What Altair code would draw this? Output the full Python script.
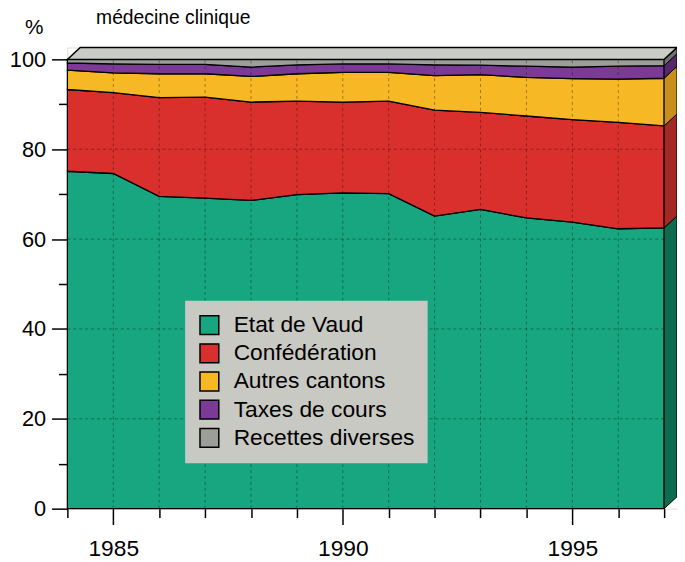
import altair as alt
import pandas as pd

# ---- data ----
years = list(range(1984, 1998))
series_names = ["Etat de Vaud", "Confédération", "Autres cantons", "Taxes de cours", "Recettes diverses"]
etat_de_vaud = [75.1, 74.6, 69.5, 69.1, 68.6, 69.9, 70.3, 70.1, 65.1, 66.6, 64.7, 63.8, 62.3, 62.5]
confederation = [18.2, 18.0, 22.0, 22.5, 21.9, 20.8, 20.2, 20.6, 23.6, 21.6, 22.7, 22.8, 23.7, 22.7]
autres_cantons = [4.3, 4.4, 5.3, 5.2, 5.7, 6.1, 6.6, 6.4, 7.7, 8.4, 8.6, 9.1, 9.6, 10.6]
taxes_de_cours = [1.6, 2.0, 2.1, 2.1, 2.1, 2.0, 1.9, 1.9, 2.4, 2.1, 2.5, 2.6, 2.9, 2.8]
recettes_diverses = [0.8, 1.0, 1.1, 1.1, 1.7, 1.2, 1.0, 1.0, 1.2, 1.3, 1.5, 1.7, 1.5, 1.4]
y_ticks = list(range(0, 101, 10))
grid_levels = [20, 40, 60, 80]
subtitle_text = ["médecine clinique"]

# ---- styles ----
front_colors = ["#17a67f", "#da302d", "#f7b826", "#7b3a95", "#9b9e99"]
side_colors = ["#0d6b4f", "#a52825", "#c98f1c", "#55276b", "#6f726e"]
top_color = "#c9ccc7"
FONT = "Liberation Sans"
DX = 0.28   # depth of the 3D effect in years
DY = 2.65   # depth of the 3D effect in percent

values = [etat_de_vaud, confederation, autres_cantons, taxes_de_cours, recettes_diverses]

rows = []
side_rows = []
for i, year in enumerate(years):
    base = 0.0
    for name, vals in zip(series_names, values):
        top = base + vals[i]
        rows.append({"year": year, "series": name, "lo": base, "hi": top})
        if i == len(years) - 1:
            side_rows.append({"x": year, "side": name, "lo": base, "hi": top})
            side_rows.append({"x": year + DX, "side": name, "lo": base + DY, "hi": top + DY})
        base = top
df = pd.DataFrame(rows)
side_df = pd.DataFrame(side_rows)

x0, x1 = years[0], years[-1]
top_df = pd.DataFrame({
    "x": [x0, x0 + DX, x1, x1 + DX],
    "lo": [100, 100, 100, 100 + DY],
    "hi": [100, 100 + DY, 100 + DY, 100 + DY],
})

vgrid = pd.DataFrame({"x": years[1:-1], "lo": 0, "hi": 100})
hgrid = pd.DataFrame({"y": grid_levels, "xa": x0, "xb": x1})

xscale = alt.Scale(domain=[x0, x1 + DX], nice=False, zero=False)
yscale = alt.Scale(domain=[0, 100 + DY], nice=False)

x_axis = alt.Axis(
    values=years, format="d", title=None, grid=False, domain=False,
    labelExpr="datum.value % 5 === 0 ? datum.label : ''",
    tickSize={"condition": {"test": "datum.value % 5 === 0", "value": 16}, "value": 9},
    tickColor="black", tickWidth=1.5, labelFont=FONT, labelFontSize=23,
    labelColor="black", labelPadding=13, labelFlush=False,
)
y_axis = alt.Axis(
    values=y_ticks, title="%", grid=False, domain=False,
    labelExpr="datum.value % 20 === 0 ? datum.label : ''",
    tickSize={"condition": {"test": "datum.value % 20 === 0", "value": 16}, "value": 9},
    tickColor="black", tickWidth=1.5, labelFont=FONT, labelFontSize=22,
    labelColor="black", labelPadding=6,
    titleAngle=0, titleX=-34, titleY=-20, titleFont=FONT, titleFontSize=21,
    titleFontWeight="normal", titleAlign="center", titleBaseline="middle", titleColor="black",
)

main = alt.Chart(df).mark_area(stroke="black", strokeWidth=1.3, opacity=1).encode(
    x=alt.X("year:Q", scale=xscale, axis=x_axis),
    y=alt.Y("lo:Q", scale=yscale, axis=y_axis),
    y2="hi:Q",
    color=alt.Color(
        "series:N",
        scale=alt.Scale(domain=series_names, range=front_colors),
        legend=alt.Legend(
            title=None, orient="none", legendX=119, legendY=256,
            fillColor="#c9c9c4", padding=13, labelFont=FONT, labelFontSize=23,
            labelColor="black", symbolType="square", symbolSize=361,
            symbolStrokeColor="black", symbolStrokeWidth=1.5, symbolOpacity=1,
            rowPadding=3.5, labelOffset=13, labelLimit=400,
        ),
    ),
    detail="series:N",
)

side = alt.Chart(side_df).mark_area(stroke="black", strokeWidth=1.0, opacity=1).encode(
    x=alt.X("x:Q", scale=xscale),
    y=alt.Y("lo:Q", scale=yscale),
    y2="hi:Q",
    color=alt.Color("side:N", scale=alt.Scale(domain=series_names, range=side_colors), legend=None),
    detail="side:N",
)

top = alt.Chart(top_df).mark_area(fill=top_color, stroke="black", strokeWidth=1.5, opacity=1).encode(
    x=alt.X("x:Q", scale=xscale),
    y=alt.Y("lo:Q", scale=yscale),
    y2="hi:Q",
)

vlines = alt.Chart(vgrid).mark_rule(color="black", opacity=0.35, strokeDash=[3, 3], strokeWidth=1).encode(
    x=alt.X("x:Q", scale=xscale),
    y=alt.Y("lo:Q", scale=yscale),
    y2="hi:Q",
)
hlines = alt.Chart(hgrid).mark_rule(color="black", opacity=0.35, strokeDash=[3, 3], strokeWidth=1).encode(
    x=alt.X("xa:Q", scale=xscale),
    x2="xb:Q",
    y=alt.Y("y:Q", scale=yscale),
)

subtitle = alt.Chart(pd.DataFrame({"t": subtitle_text})).mark_text(
    align="left", baseline="alphabetic", font=FONT, fontSize=19.5, color="black"
).encode(x=alt.value(29), y=alt.value(-24), text="t:N")

chart = alt.layer(main, side, top, vlines, hlines, subtitle).resolve_scale(color="independent").properties(
    width=616,
    height=466,
    autosize="none",
    padding={"left": 60, "top": 37, "right": 0, "bottom": 51},
).configure_view(strokeWidth=0).configure(background="white")

chart.save("out.html", embed_options={"renderer": "svg", "actions": False})
